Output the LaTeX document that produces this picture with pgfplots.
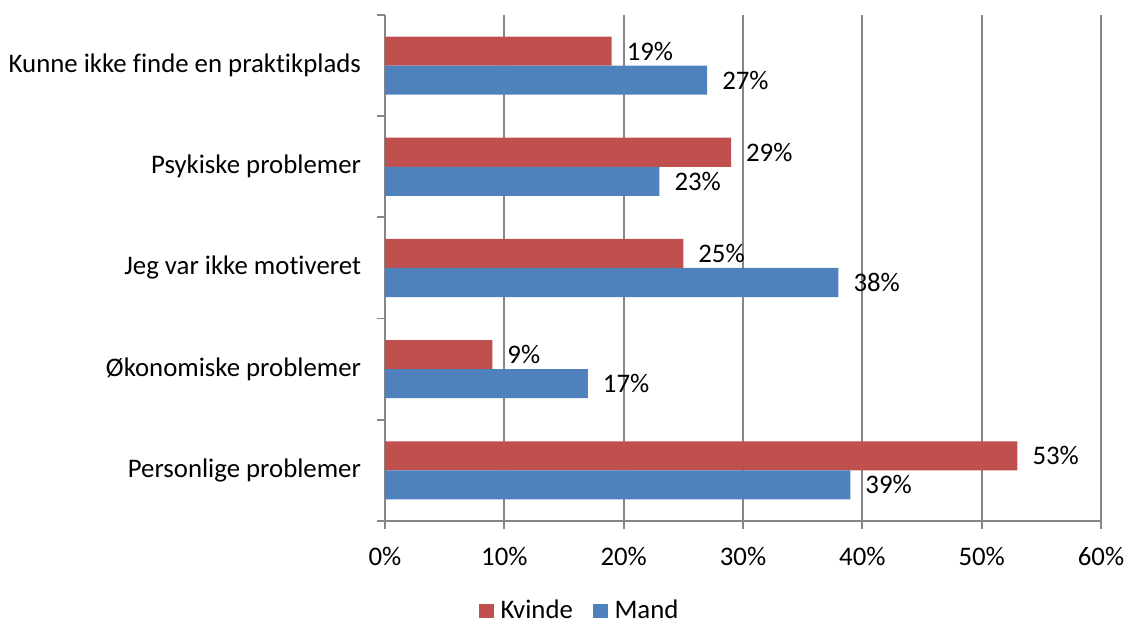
\documentclass[border=0pt]{standalone}
\usepackage{pgfplots}
\pgfplotsset{compat=1.18}
\usepackage{fontspec}
\setmainfont{Carlito}[Ligatures=NoCommon]
\definecolor{kred}{HTML}{C0504D}
\definecolor{mblue}{HTML}{4F81BD}
\definecolor{gridgray}{RGB}{134,134,134}
\newcommand{\chartfont}{\fontsize{13.4}{15.5}\selectfont}
\begin{document}
\begin{tikzpicture}
\begin{axis}[
  at={(192.5pt,51.5pt)}, anchor=south west,
  scale only axis, width=358pt, height=253pt,
  xbar, bar width=0.287,
  xmin=0, xmax=60, ymin=-0.5, ymax=4.5,
  axis x line=bottom, axis y line=left,
  axis line style={-, draw=gridgray, line width=0.9pt},
  xtick={0,10,...,60},
  xticklabel={\pgfmathprintnumber{\tick}\%},
  /pgf/number format/assume math mode=true,
  xmajorgrids, grid style={draw=gridgray, line width=0.9pt},
  ytick={0,1,2,3,4},
  yticklabels={Personlige problemer,Økonomiske problemer,Jeg var ikke motiveret,Psykiske problemer,Kunne ikke finde en praktikplads},
  minor ytick={-0.5,0.5,...,4.5},
  tick align=outside,
  major tick length=4pt, minor tick length=4pt,
  minor y tick style={draw=gridgray, line width=0.9pt},
  major y tick style={draw=none},
  x tick style={draw=gridgray, line width=0.9pt},
  tick label style={font=\chartfont, text=black},
  yticklabel style={xshift=-4.5pt},
  xticklabel style={yshift=-5.5pt},
  nodes near coords={\pgfmathprintnumber{\pgfplotspointmeta}\%},
  every node near coord/.append style={anchor=west, xshift=4pt, font=\chartfont, text=black},
  legend style={at={(0.272,-0.178)}, anchor=center, draw=none, legend columns=2,
    font=\chartfont, column sep=2.5pt, /tikz/column 2/.style={column sep=9pt},
    /tikz/every node/.append style={inner sep=1pt}},
  legend image code/.code={\fill[#1] (0pt,-3.6pt) rectangle (7.3pt,3.7pt);},
]
\addplot[fill=kred, draw=none, bar shift=0.1435] coordinates {(53,0) (9,1) (25,2) (29,3) (19,4)};
\addplot[fill=mblue, draw=none, bar shift=-0.1435] coordinates {(39,0) (17,1) (38,2) (23,3) (27,4)};
\legend{Kvinde,Mand}
\end{axis}
\pgfresetboundingbox
\path[use as bounding box] (0,0) rectangle (563pt,312pt);
\end{tikzpicture}
\end{document}
